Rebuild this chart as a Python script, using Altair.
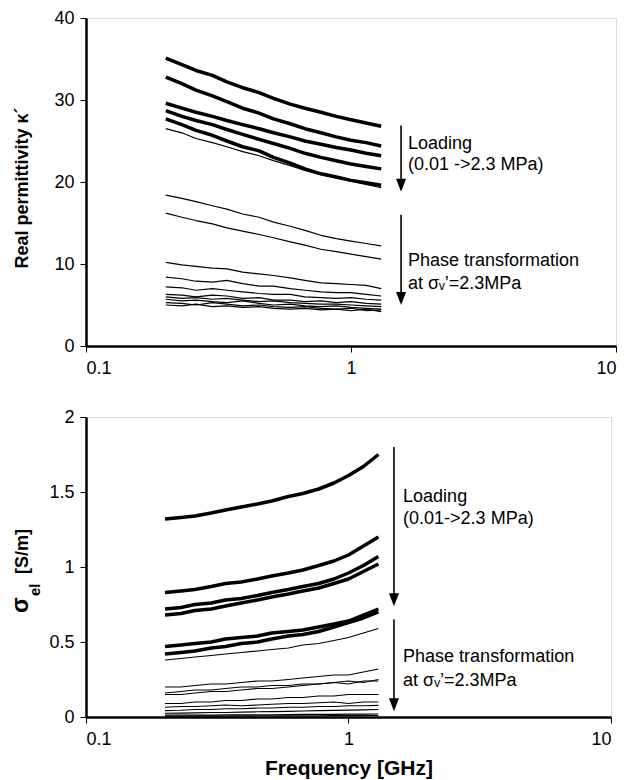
import altair as alt
import pandas as pd

# ---------------- data ----------------
freq = [0.20, 0.23, 0.26, 0.30, 0.34, 0.39, 0.45, 0.51, 0.59, 0.67, 0.77, 0.88, 1.00, 1.14, 1.30]

# Real permittivity (top) - loading curves (thick) and one thin
perm_load = [
    [35.1, 34.3, 33.6, 33.0, 32.2, 31.5, 30.9, 30.2, 29.5, 29.0, 28.5, 28.0, 27.6, 27.2, 26.8],
    [32.8, 32.0, 31.2, 30.5, 29.8, 29.0, 28.4, 27.7, 27.1, 26.5, 26.0, 25.5, 25.1, 24.8, 24.4],
    [29.6, 29.0, 28.5, 28.0, 27.5, 27.0, 26.5, 26.0, 25.5, 25.0, 24.6, 24.2, 23.9, 23.5, 23.2],
    [28.7, 28.0, 27.5, 27.0, 26.4, 25.8, 25.2, 24.7, 24.1, 23.5, 23.0, 22.6, 22.2, 21.9, 21.6],
    [27.7, 27.0, 26.3, 25.7, 25.0, 24.3, 23.8, 23.0, 22.3, 21.6, 21.0, 20.6, 20.2, 19.9, 19.6],
]
perm_thin = [
    [26.5, 26.0, 25.3, 24.8, 24.3, 23.7, 23.2, 22.6, 22.0, 21.4, 20.9, 20.5, 20.1, 19.7, 19.3],
    [18.4, 18.0, 17.6, 17.1, 16.7, 16.1, 15.7, 15.1, 14.6, 14.1, 13.5, 13.1, 12.8, 12.5, 12.2],
    [16.2, 15.7, 15.3, 14.9, 14.4, 14.0, 13.6, 13.2, 12.7, 12.3, 11.8, 11.5, 11.2, 10.9, 10.6],
    [10.2, 9.9, 9.7, 9.5, 9.4, 9.0, 8.8, 8.6, 8.3, 8.0, 7.7, 7.6, 7.5, 7.4, 7.0],
    [8.4, 8.2, 7.9, 7.8, 8.0, 7.6, 7.3, 7.3, 7.0, 6.8, 6.6, 6.5, 6.5, 6.3, 6.1],
    [7.2, 7.1, 6.8, 7.0, 6.8, 6.6, 6.4, 6.3, 6.3, 6.0, 5.9, 5.8, 5.9, 5.7, 5.6],
    [6.3, 6.2, 6.0, 6.2, 6.1, 5.8, 5.9, 5.6, 5.6, 5.4, 5.5, 5.3, 5.4, 5.2, 5.1],
    [6.0, 5.8, 5.9, 5.7, 5.8, 5.6, 5.4, 5.5, 5.3, 5.2, 5.1, 5.1, 5.0, 4.9, 4.8],
    [5.7, 5.5, 5.6, 5.4, 5.3, 5.5, 5.2, 5.0, 5.1, 4.9, 4.8, 4.9, 4.7, 4.6, 4.5],
    [5.3, 5.2, 5.0, 5.3, 5.1, 4.9, 5.0, 4.8, 4.7, 4.8, 4.6, 4.5, 4.6, 4.3, 4.4],
    [5.0, 4.9, 5.1, 4.8, 4.9, 4.7, 4.8, 4.6, 4.5, 4.6, 4.4, 4.5, 4.3, 4.5, 4.2],
]

# Electrical conductivity (bottom)
cond_load = [
    [1.32, 1.33, 1.34, 1.36, 1.38, 1.40, 1.42, 1.44, 1.47, 1.49, 1.52, 1.56, 1.61, 1.67, 1.75],
    [0.83, 0.84, 0.85, 0.87, 0.89, 0.90, 0.92, 0.94, 0.96, 0.98, 1.01, 1.04, 1.08, 1.14, 1.20],
    [0.72, 0.73, 0.75, 0.76, 0.78, 0.79, 0.81, 0.83, 0.85, 0.87, 0.89, 0.92, 0.96, 1.01, 1.07],
    [0.68, 0.69, 0.71, 0.72, 0.74, 0.76, 0.78, 0.80, 0.82, 0.84, 0.86, 0.89, 0.92, 0.97, 1.02],
    [0.47, 0.48, 0.49, 0.50, 0.52, 0.53, 0.54, 0.56, 0.57, 0.58, 0.60, 0.62, 0.64, 0.68, 0.72],
    [0.42, 0.43, 0.44, 0.46, 0.47, 0.49, 0.50, 0.52, 0.54, 0.55, 0.57, 0.60, 0.63, 0.66, 0.70],
]
cond_thin = [
    [0.38, 0.39, 0.40, 0.41, 0.42, 0.43, 0.44, 0.45, 0.46, 0.48, 0.49, 0.51, 0.53, 0.56, 0.59],
    [0.20, 0.20, 0.21, 0.22, 0.22, 0.23, 0.24, 0.24, 0.25, 0.26, 0.27, 0.28, 0.28, 0.30, 0.32],
    [0.16, 0.17, 0.18, 0.18, 0.19, 0.20, 0.20, 0.21, 0.21, 0.22, 0.22, 0.23, 0.24, 0.23, 0.25],
    [0.15, 0.15, 0.16, 0.17, 0.17, 0.18, 0.19, 0.19, 0.20, 0.21, 0.22, 0.23, 0.22, 0.24, 0.24],
    [0.09, 0.09, 0.10, 0.10, 0.11, 0.11, 0.12, 0.12, 0.13, 0.13, 0.14, 0.14, 0.15, 0.15, 0.15],
    [0.065, 0.07, 0.07, 0.075, 0.08, 0.075, 0.08, 0.085, 0.09, 0.09, 0.095, 0.10, 0.09, 0.10, 0.10],
    [0.043, 0.045, 0.05, 0.05, 0.055, 0.055, 0.06, 0.06, 0.065, 0.065, 0.07, 0.07, 0.075, 0.075, 0.078],
    [0.025, 0.026, 0.028, 0.03, 0.03, 0.032, 0.035, 0.036, 0.038, 0.04, 0.042, 0.044, 0.046, 0.048, 0.05],
    [0.012, 0.012, 0.013, 0.013, 0.014, 0.014, 0.015, 0.015, 0.016, 0.017, 0.017, 0.018, 0.019, 0.019, 0.02],
    [0.005, 0.005, 0.006, 0.006, 0.006, 0.007, 0.007, 0.007, 0.008, 0.008, 0.008, 0.009, 0.009, 0.01, 0.01],
]

# annotations (data coordinates)
top_arrow_x = [1.545, 1.545]
top_arrow_y = [26.9, 16.0]
top_arrow_head = [19.6, 5.8]
top_text_x = 1.64
top_text = ["Loading", "(0.01 ->2.3 MPa)", "Phase transformation", "at σᵥ’=2.3MPa"]
top_text_y = [24.0, 21.5, 9.7, 7.0]

bot_arrow_x = [1.49, 1.49]
bot_arrow_y = [1.80, 0.651]
bot_arrow_head = [0.781, 0.081]
bot_text_x = 1.614
bot_text = ["Loading", "(0.01->2.3 MPa)", "Phase transformation", "at σᵥ’=2.3MPa"]
bot_text_y = [1.435, 1.285, 0.367, 0.207]

FONT = "Liberation Sans"
HEAD = "M-1,-1.3L1,-1.3L0,1.3Z"


def long_df(thick, thin):
    rows = []
    for i, s in enumerate(thick):
        for f, v in zip(freq, s):
            rows.append({"f": f, "v": v, "s": f"k{i}", "w": 3.5})
    for i, s in enumerate(thin):
        for f, v in zip(freq, s):
            rows.append({"f": f, "v": v, "s": f"t{i}", "w": 1.2})
    return pd.DataFrame(rows)


def panel(df, ydom, yvals, width, height, xtitle, ax_x, ax_y, ax_head, tx, texts, ty):
    xscale = alt.Scale(type="log", domain=[0.1, 10], nice=False)
    yscale = alt.Scale(domain=ydom, nice=False)
    xaxis = alt.Axis(values=[0.1, 1, 10], format="~g", title=xtitle, grid=False,
                     domainColor="black", domainWidth=2.5, tickColor="black", tickSize=6,
                     labelFont=FONT, labelFontSize=18, labelColor="black", labelPadding=7,
                     titleFont=FONT, titleFontSize=21, titleFontWeight="bold", titleColor="black",
                     titlePadding=9)
    yaxis = alt.Axis(values=yvals, format="~g", title=None, grid=False,
                     domainColor="black", domainWidth=2.5, tickColor="black", tickSize=6,
                     labelFont=FONT, labelFontSize=18, labelColor="black", labelPadding=6)
    lines = alt.Chart(df).mark_line(color="black", strokeJoin="round").encode(
        x=alt.X("f:Q", scale=xscale, axis=xaxis),
        y=alt.Y("v:Q", scale=yscale, axis=yaxis),
        detail="s:N",
        strokeWidth=alt.StrokeWidth("w:Q", scale=None),
    )
    adf = pd.DataFrame({"x": ax_x, "y": ax_y, "y2": ax_head})
    rule = alt.Chart(adf).mark_rule(color="black", strokeWidth=1.6).encode(
        x="x:Q", y="y:Q", y2="y2:Q")
    head = alt.Chart(adf).mark_point(shape=HEAD, filled=True, color="black", opacity=1,
                                     size=100).encode(x="x:Q", y="y2:Q")
    tdf = pd.DataFrame({"x": [tx] * len(texts), "y": ty, "t": texts})
    txt = alt.Chart(tdf).mark_text(align="left", baseline="alphabetic", font=FONT,
                                   fontSize=18, color="black").encode(
        x="x:Q", y="y:Q", text="t:N")
    return alt.layer(lines, rule, head, txt).properties(width=width, height=height)


top_df = long_df(perm_load, perm_thin)
bot_df = long_df(cond_load, cond_thin)

top = panel(top_df, [0, 40], [0, 10, 20, 30, 40], 530, 328, None,
            top_arrow_x, top_arrow_y, top_arrow_head, top_text_x, top_text, top_text_y)
bot = panel(bot_df, [0, 2], [0, 0.5, 1, 1.5, 2], 525, 300, "Frequency [GHz]",
            bot_arrow_x, bot_arrow_y, bot_arrow_head, bot_text_x, bot_text, bot_text_y)

dummy = alt.Data(values=[{}])
top_title = alt.Chart(dummy).mark_text(angle=270, align="center", baseline="alphabetic",
                                       font=FONT, fontSize=18, fontWeight="bold",
                                       color="black").encode(
    x=alt.value(-58), y=alt.value(170), text=alt.value("Real permittivity κ´"))
bt_sigma = alt.Chart(dummy).mark_text(angle=270, align="left", baseline="alphabetic",
                                      font=FONT, fontSize=23, fontWeight="bold",
                                      color="black").encode(
    x=alt.value(-58), y=alt.value(196), text=alt.value("σ"))
bt_el = alt.Chart(dummy).mark_text(angle=270, align="left", baseline="alphabetic",
                                   font=FONT, fontSize=15, fontWeight="bold",
                                   color="black").encode(
    x=alt.value(-46), y=alt.value(179), text=alt.value("el"))
bt_unit = alt.Chart(dummy).mark_text(angle=270, align="left", baseline="alphabetic",
                                     font=FONT, fontSize=18, fontWeight="bold",
                                     color="black").encode(
    x=alt.value(-58), y=alt.value(157), text=alt.value("[S/m]"))

top_full = alt.layer(top, top_title)
bot_full = alt.layer(bot, bt_sigma, bt_el, bt_unit)

chart = alt.vconcat(top_full, bot_full, spacing=29).properties(
    padding={"left": 1, "top": 0, "right": 5, "bottom": 5}
).configure_view(stroke="#555555", strokeWidth=1).configure(background="white")

chart.save("out.html", embed_options={"renderer": "svg", "actions": False})
